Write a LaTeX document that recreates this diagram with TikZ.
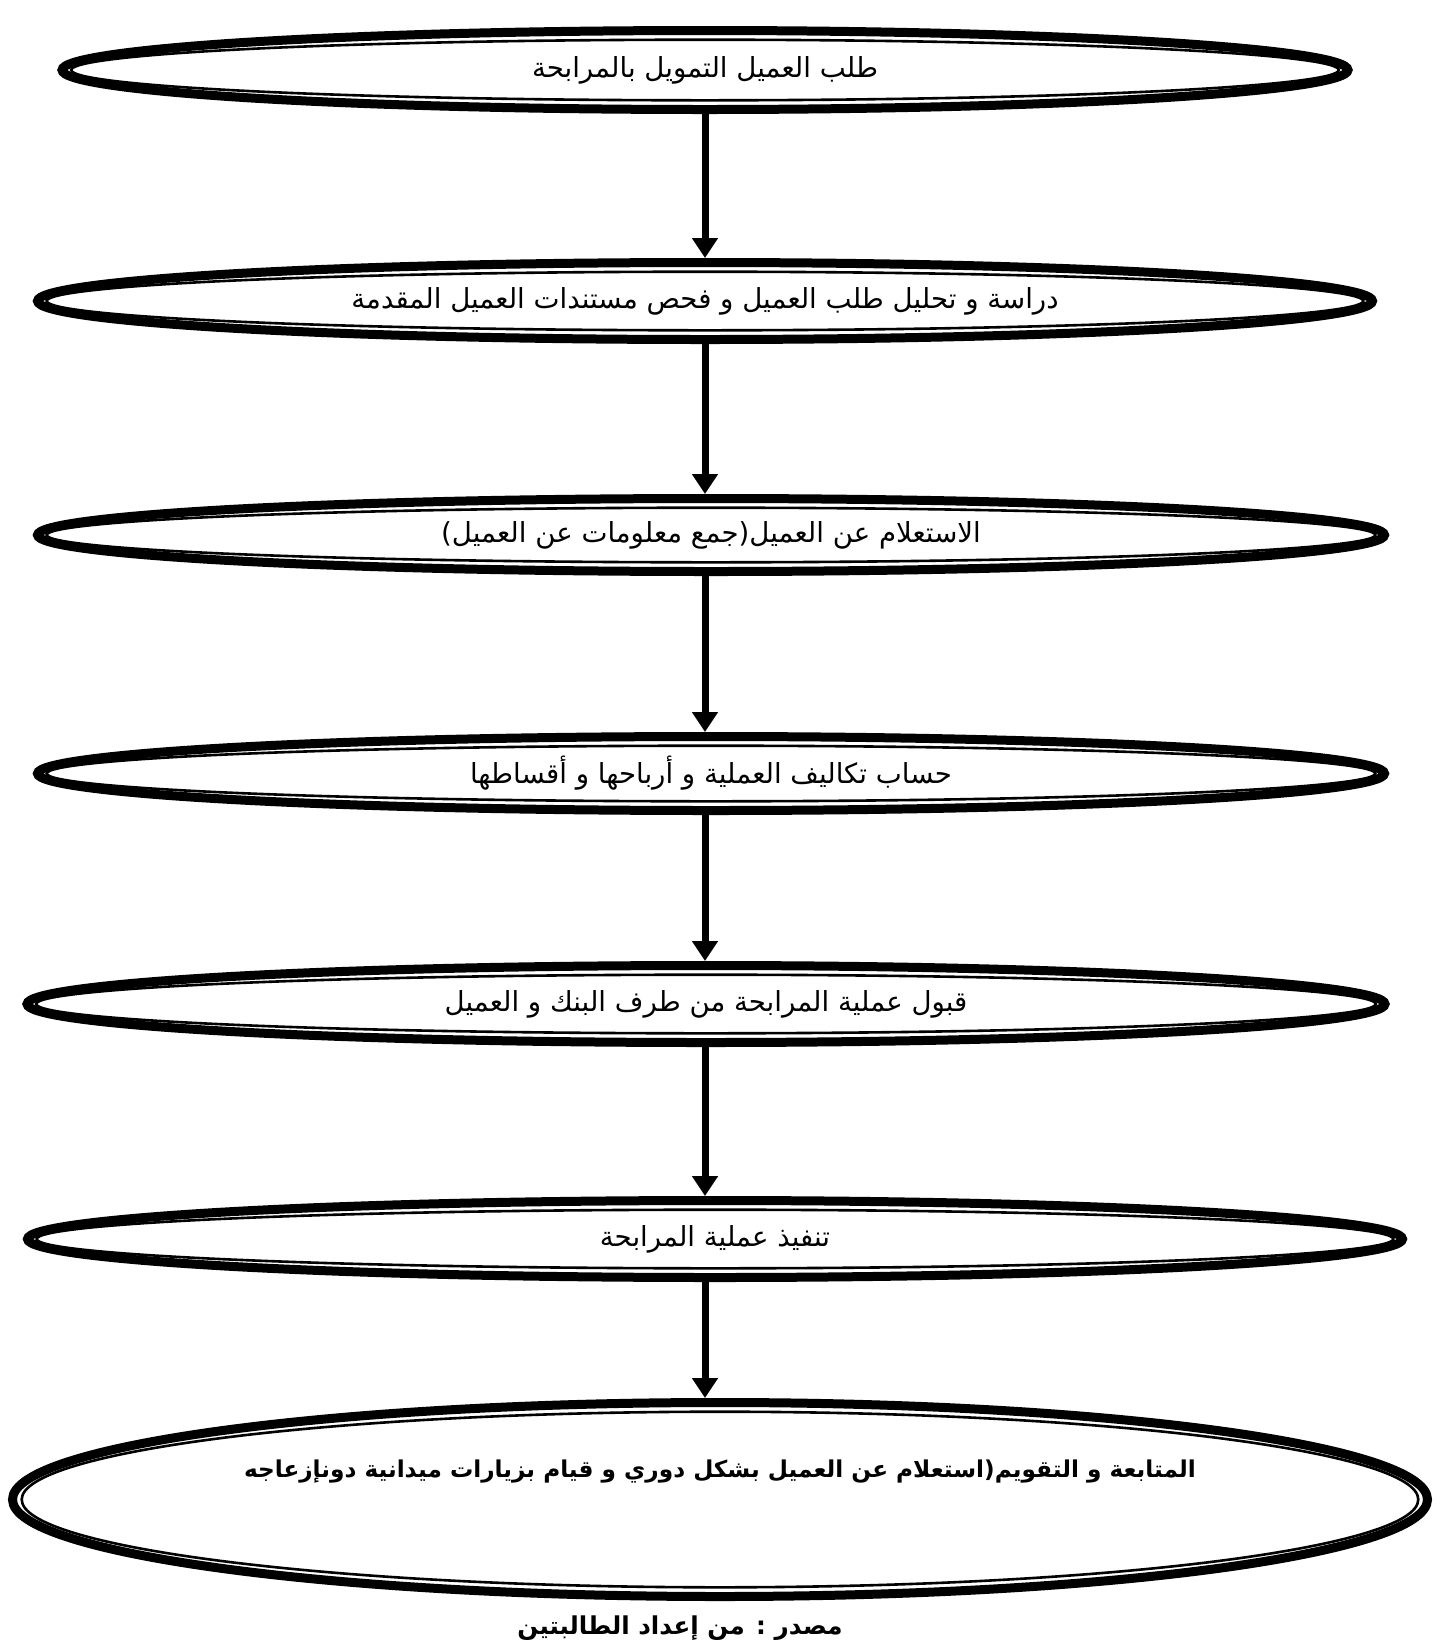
\documentclass[tikz,border=0pt]{standalone}
\usepackage{fontspec}
\usetikzlibrary{arrows.meta,positioning,calc,shapes.geometric}
\TeXXeTstate=1
\newfontfamily\arabicfont[Script=Arabic]{DejaVu Sans}
\newcommand{\artxt}[1]{{\arabicfont\beginR #1\endR}}

\begin{document}
\begin{tikzpicture}[node distance=75pt,stage/.style={ellipse,draw,line width=4.5pt,inner sep=0pt,font=\fontsize{13.8}{16}\selectfont,path picture={\draw[line width=1.3pt] let \p1=($(path picture bounding box.north east)-(path picture bounding box.center)$) in (path picture bounding box.center) ellipse [x radius=\x1-4.6pt,y radius=\y1-4.6pt];}},arr/.style={-{Triangle[width=12.5pt,length=10pt]},line width=3.5pt}]
\useasboundingbox (0,0) rectangle (722.5pt,-822.5pt);
\node[stage,minimum width=643pt,minimum height=39.5pt] (req) at (352.5pt,-35pt) {\artxt{طلب العميل التمويل بالمرابحة}};
\node[stage,minimum width=667.5pt,minimum height=38.5pt,below=72pt of req] (study) {\artxt{دراسة و تحليل طلب العميل و فحص مستندات العميل المقدمة}};
\node[stage,minimum width=673.5pt,minimum height=36.5pt,below=75pt of study,xshift=3pt] (inq) {\artxt{الاستعلام عن العميل(جمع معلومات عن العميل)}};
\node[stage,minimum width=673.5pt,minimum height=37pt,below=78pt of inq] (cost) {\artxt{حساب تكاليف العملية و أرباحها و أقساطها}};
\node[stage,minimum width=679pt,minimum height=38.5pt,below=73pt of cost,xshift=-2.5pt] (accept) {\artxt{قبول عملية المرابحة من طرف البنك و العميل}};
\node[stage,minimum width=687.5pt,minimum height=38.5pt,below=74.5pt of accept,xshift=4.5pt] (exec) {\artxt{تنفيذ عملية المرابحة}};
\node[stage,minimum width=707.5pt,minimum height=97pt,below=58pt of exec,xshift=2.5pt,text height=12pt,text depth=34pt,font=\bfseries\fontsize{11.6}{14}\selectfont] (follow) {\artxt{المتابعة و التقويم(استعلام عن العميل بشكل دوري و قيام بزيارات ميدانية دونإزعاجه}};
\node[below=4pt of follow,xshift=-20pt,font=\bfseries\fontsize{12.3}{15}\selectfont] (src) {\artxt{مصدر : من إعداد الطالبتين}};
\draw[arr] (req.south) -- (req.south |- study.north);
\draw[arr] (study.south) -- (study.south |- inq.north);
\draw[arr] (req.south |- inq.south) -- (req.south |- cost.north);
\draw[arr] (req.south |- cost.south) -- (req.south |- accept.north);
\draw[arr] (req.south |- accept.south) -- (req.south |- exec.north);
\draw[arr] (req.south |- exec.south) -- (req.south |- follow.north);
\end{tikzpicture}
\end{document}
